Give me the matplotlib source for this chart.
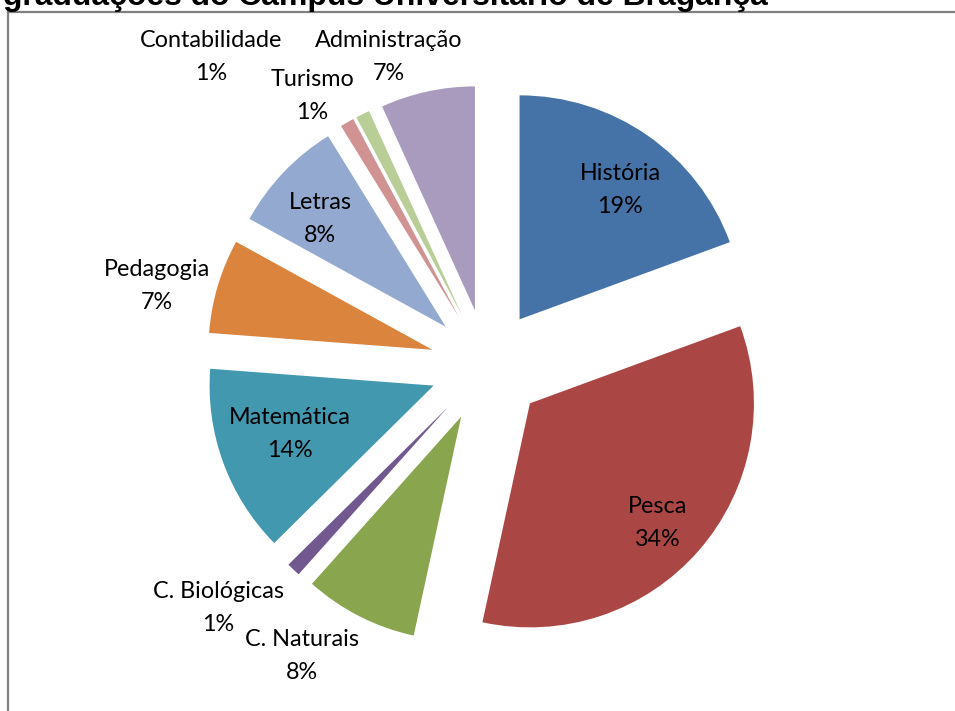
import matplotlib
matplotlib.use("Agg")
import matplotlib.pyplot as plt
from matplotlib.lines import Line2D
import numpy as np

# ---- data ----
categories = ["História", "Pesca", "C. Naturais", "C. Biológicas", "Matemática",
              "Pedagogia", "Letras", "Turismo", "Contabilidade", "Administração"]
values = [19.4, 34.0, 8.2, 1.0, 13.6, 6.8, 8.2, 1.0, 1.0, 6.8]
colors = ["#4572A7", "#AA4643", "#89A54E", "#71588F", "#4198AF",
          "#DB843D", "#93A9CF", "#D19392", "#B9CD96", "#A99BBD"]
title = "graduações do Campus Universitário de Bragança"

# label centres in pixels (x, y from top)
label_px = [(620, 190), (658, 523), (302, 656), (218, 608), (290, 434),
            (157, 286), (320, 219), (312, 96), (211, 57), (389, 57)]
LINE_GAP = 33  # px between the two label lines

W, H = 955, 711
CX, CY, R = 487, 366, 224
fig = plt.figure(figsize=(W / 100, H / 100), dpi=100)
ax = fig.add_axes([0, 0, 1, 1])
ax.axis("off")

ax.pie(values, colors=colors, startangle=90, counterclock=False,
       explode=[0.254] * len(values), radius=1.0, center=(0, 0),
       wedgeprops=dict(linewidth=0), frame=False)
ax.set_xlim(-CX / R, (W - CX) / R)
ax.set_ylim(-(H - CY) / R, CY / R)
ax.set_aspect("auto")

total = sum(values)
for cat, v, (px, py) in zip(categories, values, label_px):
    x = (px - CX) / R
    for txt, dy in ((cat, -LINE_GAP / 2), (f"{v / total * 100:.0f}%", LINE_GAP / 2)):
        ax.text(x, (CY - (py + dy)) / R, txt, ha="center", va="center",
                fontsize=16.8, family="Lato", color="black")

# frame lines
fig.add_artist(Line2D([8 / W, 8 / W], [0, 1 - 12 / H], transform=fig.transFigure,
                      color="#808080", linewidth=1.6))
fig.add_artist(Line2D([8 / W, 1], [1 - 12 / H, 1 - 12 / H], transform=fig.transFigure,
                      color="#808080", linewidth=1.6))

t = fig.text(3 / W, 1 - 5 / H, title, ha="left", va="baseline",
             fontsize=18, fontweight="bold", family="Liberation Sans")
fig.canvas.draw()
bb = t.get_window_extent()
t.set_fontsize(18 * 767 / bb.width)

fig.savefig("out.png", dpi=100)
